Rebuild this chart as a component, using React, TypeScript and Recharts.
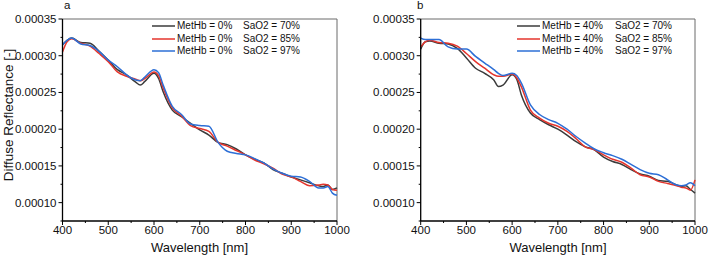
import React from "react";
import { LineChart, Line, XAxis, YAxis, ReferenceLine } from "recharts";

const wavelengths = [
  400, 410, 420, 440, 460, 480, 500, 520, 540, 560, 570, 580, 600, 610, 620, 640, 660, 680,
  700, 720, 740, 760, 780, 800, 820, 840, 860, 880, 900, 920, 940, 960, 970, 980, 990, 1000,
];

// panel a: MetHb = 0%
const aSat70 = [
  0.000315, 0.000321, 0.000324, 0.000318, 0.000317, 0.000306, 0.000294, 0.000281, 0.000274,
  0.000264, 0.00026, 0.000265, 0.000276, 0.000269, 0.000251, 0.000226, 0.000217, 0.000208,
  0.000199, 0.000192, 0.000182, 0.000179, 0.000173, 0.000165, 0.000159, 0.000154, 0.000145,
  0.00014, 0.000135, 0.000131, 0.000127, 0.000123, 0.000122, 0.000124, 0.000118, 0.00012,
];
const aSat85 = [
  0.000305, 0.000319, 0.000323, 0.000317, 0.000313, 0.000303, 0.000292, 0.000278, 0.000272,
  0.000268, 0.000266, 0.000269, 0.000278, 0.000273, 0.000256, 0.000229, 0.000218, 0.000205,
  0.000201, 0.000197, 0.000182, 0.000177, 0.000171, 0.000165, 0.000158, 0.000153, 0.000147,
  0.000139, 0.000135, 0.000129, 0.000123, 0.000124, 0.000125, 0.000124, 0.000118, 0.000117,
];
const aSat97 = [
  0.000315, 0.000321, 0.000324, 0.000316, 0.000314, 0.000306, 0.000294, 0.000285, 0.000274,
  0.000267, 0.000266, 0.000271, 0.000281, 0.000277, 0.00026, 0.000231, 0.00022, 0.000207,
  0.000205, 0.000204, 0.000182, 0.00017, 0.000167, 0.000165, 0.00016, 0.000154, 0.000146,
  0.00014, 0.000136, 0.000135, 0.000129, 0.00012, 0.00012, 0.000122, 0.000113, 0.00011,
];

// panel b: MetHb = 40%
const bSat70 = [
  0.000309, 0.000319, 0.00032, 0.000317, 0.000316, 0.00031, 0.000297, 0.000283, 0.000276,
  0.000267, 0.000258, 0.00026, 0.000274, 0.000268, 0.000247, 0.000222, 0.000213, 0.000206,
  0.0002, 0.000192, 0.000183, 0.000176, 0.000172, 0.000162, 0.000156, 0.000152, 0.000145,
  0.000139, 0.000136, 0.00013, 0.000129, 0.000124, 0.000122, 0.000123, 0.000118, 0.000113,
];
const bSat85 = [
  0.000312, 0.000319, 0.000321, 0.000318, 0.000317, 0.000313, 0.000303, 0.000292, 0.000283,
  0.000274, 0.000272, 0.000272, 0.000275, 0.00027, 0.000258, 0.000226, 0.000215, 0.000208,
  0.000204, 0.000197, 0.000187, 0.000176, 0.000172, 0.000165, 0.000159, 0.000155, 0.000147,
  0.000138, 0.000135, 0.000129, 0.000126, 0.000123, 0.000121, 0.00012, 0.000117, 0.000131,
];
const bSat97 = [
  0.000324, 0.000322, 0.000322, 0.000322, 0.000312, 0.000309, 0.000309, 0.000299, 0.00029,
  0.000281, 0.000276, 0.000273, 0.000276, 0.000273, 0.000263, 0.000233, 0.00022, 0.000213,
  0.000208, 0.0002, 0.00019, 0.000181, 0.000173, 0.000168, 0.000164, 0.000159, 0.000152,
  0.000145, 0.00014, 0.000138, 0.000131, 0.000124, 0.000123, 0.000124, 0.000127, 0.000123,
];

const satLabels = ["SaO2 = 70%", "SaO2 = 85%", "SaO2 = 97%"];
const xTicks = [400, 450, 500, 550, 600, 650, 700, 750, 800, 850, 900, 950, 1000];
const yTicks = [
  0.000075, 0.0001, 0.000125, 0.00015, 0.000175, 0.0002, 0.000225, 0.00025, 0.000275, 0.0003,
  0.000325, 0.00035,
];

const FONT = '"Liberation Sans", Arial, Helvetica, sans-serif';
const COLORS = ["#3b3b3b", "#e5352d", "#2d6fd6"];

function XTick(props: any) {
  const { x, y, payload } = props;
  const major = payload.value % 100 === 0;
  return (
    <g>
      <line x1={x} x2={x} y1={y} y2={y + (major ? 4 : 2)} stroke="#000" strokeWidth={1} />
      {major && (
        <text x={x} y={y + 13} textAnchor="middle" fontSize={11.5} fontFamily={FONT} fill="#111">
          {payload.value}
        </text>
      )}
    </g>
  );
}

function YTick(props: any) {
  const { x, y, payload } = props;
  const major = Math.round(payload.value * 1e6) % 50 === 0;
  return (
    <g>
      <line x1={x - (major ? 4 : 2)} x2={x} y1={y} y2={y} stroke="#000" strokeWidth={1} />
      {major && (
        <text x={x - 6} y={y + 4} textAnchor="end" fontSize={11.5} fontFamily={FONT} fill="#111">
          {payload.value.toFixed(5)}
        </text>
      )}
    </g>
  );
}

type PanelProps = {
  left: number;
  yAxisWidth: number;
  rightMargin: number;
  s70: number[];
  s85: number[];
  s97: number[];
  metLabel: string;
  letter: string;
  letterX: number;
  legendX: number;
  satX: number;
  titleX: number;
};

function Panel(p: PanelProps) {
  const data = wavelengths.map((wl, i) => ({ wl, s70: p.s70[i], s85: p.s85[i], s97: p.s97[i] }));
  const keys = ["s70", "s85", "s97"];
  return (
    <div style={{ position: "absolute", left: p.left, top: 0, width: 354, height: 260 }}>
      <LineChart
        width={354}
        height={260}
        data={data}
        margin={{ top: 19, right: p.rightMargin, bottom: 0, left: 0 }}
      >
        <XAxis
          dataKey="wl"
          type="number"
          domain={[400, 1000]}
          ticks={xTicks}
          interval={0}
          height={39}
          tickSize={0}
          tickMargin={0}
          tickLine={false}
          tick={XTick}
          axisLine={{ stroke: "#000", strokeWidth: 1.3 }}
        />
        <YAxis
          type="number"
          domain={[0.000075, 0.00035]}
          ticks={yTicks}
          interval={0}
          allowDataOverflow
          width={p.yAxisWidth}
          tickSize={0}
          tickMargin={0}
          tickLine={false}
          tick={YTick}
          axisLine={{ stroke: "#000", strokeWidth: 1.3 }}
        />
        <ReferenceLine x={1000} stroke="#6b6b6b" strokeWidth={1} />
        <ReferenceLine y={0.00035} stroke="#6b6b6b" strokeWidth={1} />
        {keys.map((k, i) => (
          <Line
            key={k}
            dataKey={k}
            type="monotone"
            stroke={COLORS[i]}
            strokeWidth={1.5}
            dot={false}
            isAnimationActive={false}
          />
        ))}
      </LineChart>
      <div
        style={{
          position: "absolute",
          left: p.letterX,
          top: 0,
          fontFamily: FONT,
          fontSize: 11.5,
          lineHeight: "11px",
          color: "#111",
        }}
      >
        {p.letter}
      </div>
      {satLabels.map((s, i) => (
        <div
          key={s}
          style={{
            position: "absolute",
            left: p.legendX,
            top: 20 + i * 12.5,
            height: 12,
            fontFamily: FONT,
            fontSize: 10,
            lineHeight: "12px",
            color: "#111",
            whiteSpace: "nowrap",
          }}
        >
          <svg width={23} height={12} style={{ verticalAlign: "top", marginRight: 2 }}>
            <line x1={0} x2={23} y1={6} y2={6} stroke={COLORS[i]} strokeWidth={1.5} />
          </svg>
          <span>{p.metLabel}</span>
          <span style={{ position: "absolute", left: p.satX }}>{s}</span>
        </div>
      ))}
      <div
        style={{
          position: "absolute",
          left: p.titleX - 60,
          width: 120,
          top: 241,
          textAlign: "center",
          fontFamily: FONT,
          fontSize: 13,
          lineHeight: "14px",
          color: "#111",
        }}
      >
        Wavelength [nm]
      </div>
    </div>
  );
}

export default function App() {
  return (
    <div style={{ position: "absolute", left: 0, top: 0, width: 709, height: 260, background: "#fff" }}>
      <Panel
        left={0}
        yAxisWidth={62.5}
        rightMargin={17}
        s70={aSat70}
        s85={aSat85}
        s97={aSat97}
        metLabel="MetHb = 0%"
        letter="a"
        letterX={64}
        legendX={152}
        satX={91}
        titleX={199.5}
      />
      <Panel
        left={355}
        yAxisWidth={65.7}
        rightMargin={14}
        s70={bSat70}
        s85={bSat85}
        s97={bSat97}
        metLabel="MetHb = 40%"
        letter="b"
        letterX={62}
        legendX={162}
        satX={98}
        titleX={203}
      />
      <div
        style={{
          position: "absolute",
          left: 9 - 80,
          top: 115 - 8,
          width: 160,
          height: 16,
          textAlign: "center",
          transform: "rotate(-90deg)",
          fontFamily: FONT,
          fontSize: 13.5,
          lineHeight: "16px",
          color: "#111",
          whiteSpace: "nowrap",
        }}
      >
        Diffuse Reflectance [-]
      </div>
    </div>
  );
}
